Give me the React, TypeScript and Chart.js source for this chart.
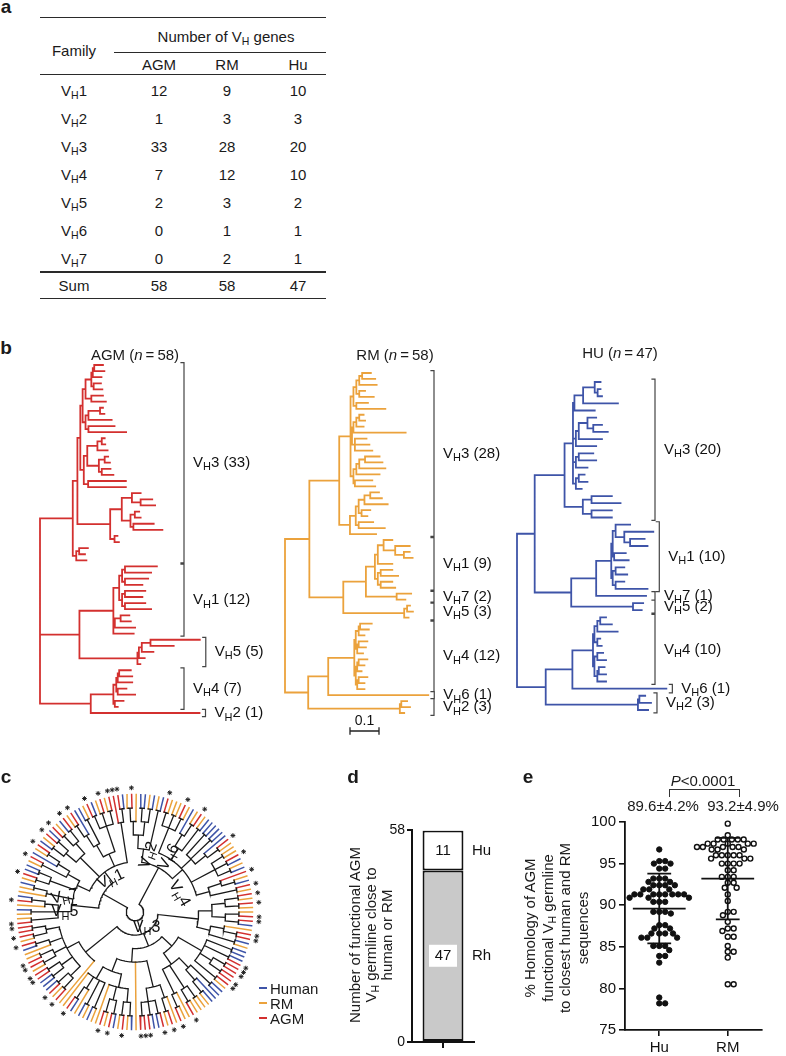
import React, { useEffect, useRef } from "react";
import { Chart, registerables } from "chart.js";

Chart.register(...registerables);

const FONT = "'Liberation Sans', Arial, Helvetica, sans-serif";
Chart.defaults.font.family = FONT;
Chart.defaults.color = "#111";

/* ---------------- panel a : table ---------------- */
const familyNames = ["1", "2", "3", "4", "5", "6", "7"];
const speciesNames = ["AGM", "RM", "Hu"];
const agmGeneCounts = [12, 1, 33, 7, 2, 0, 0];
const rmGeneCounts = [9, 3, 28, 12, 3, 1, 2];
const huGeneCounts = [10, 3, 20, 10, 2, 1, 1];
const geneSums = [58, 58, 47];

/* ---------------- panel b : trees (Newick, branch lengths in substitutions/site) ---------------- */
const agmSub1 = "((((:0.03,:0.035):0.005,:0.03):0.005,(:0.025,:0.03):0.008):0.02,(:0.04,:0.05):0.02)";
const agmSub2 = "(((:0.01,:0.015):0.04,:0.08):0.01,(:0.09,:0.13):0.01)";
const agmSub3 = "((((:0.01,:0.012):0.015,:0.035):0.035,((:0.012,:0.018):0.02,(:0.03,:0.04):0.01):0.04):0.012,(:0.13,:0.13):0.015)";
const agmSub4 = "(((:0.03,(:0.04,:0.05):0.03):0.035,((:0.015,:0.02):0.015,(:0.07,:0.1):0.01):0.03):0.04,(:0.01,:0.015):0.015)";
const agmSub5 = "((:0.03,:0.02):0.01,:0.035)";
const agmVH1 = "((((:0.11,:0.09):0.01,(:0.08,:0.06):0.01):0.01,((:0.07,:0.06):0.01,(:0.07,:0.09):0.01):0.01):0.02,((:0.03,:0.035):0.02,:0.07):0.005,:0.07)";
const agmVH5 = "((((:0.17,:0.08):0.03,:0.04):0.01,:0.02):0.005,:0.01)";
const agmVH4 = "((((:0.04,:0.045):0.005,:0.05):0.005,(:0.03,:0.06):0.005):0.01,(:0.03,:0.01):0.005)";
const agmSub12 = `(${agmSub1}:0.01,${agmSub2}:0.01)`;
const agmA1a = `(${agmSub12}:0.008,${agmSub3}:0.012)`;
const agmA1 = `(${agmA1a}:0.01,${agmSub4}:0.113)`;
const agmVH3 = `(${agmA1}:0.016,${agmSub5}:0.012)`;
const agmNewick = `(${agmVH3}:0.113,(${agmVH1}:0.117,${agmVH5}:0.2):0.136,(${agmVH4}:0.078,:0.375):0.175)`;
const agmCladeNames = ["3", "1", "5", "4", "2"];
const agmCladeSizes = [33, 12, 5, 7, 1];

const rmVH3a = "((((:0.03,:0.045):0.01,:0.06):0.01,(:0.02,:0.05):0.01):0.01,(:0.04,:0.1):0.01)";
const rmVH3b = "((((:0.015,:0.02):0.01,:0.025):0.01,:0.18):0.005,(:0.04,:0.05,:0.06):0.01)";
const rmVH3c = "((((:0.05,:0.06):0.02,:0.09):0.01,:0.08):0.01,(:0.06,:0.07):0.005)";
const rmVH3d = "(((((:0.03,:0.04):0.02,:0.08):0.02,(:0.03,:0.02):0.01):0.01,(:0.05,:0.09):0.01):0.02,:0.09)";
const rmVH1 = "(((:0.03,(:0.05,(:0.02,:0.03):0.03):0.04):0.02,:0.05):0.01,((:0.04,:0.06):0.01,(:0.04,:0.05):0.01):0.01)";
const rmVH7 = "(:0.05,:0.03)";
const rmVH5 = "((:0.01,:0.02):0.01,:0.015)";
const rmVH4 = "((((:0.04,:0.03):0.005,:0.02):0.01,((:0.03,:0.025):0.005,:0.02):0.005):0.005,(((:0.03,:0.02):0.005,:0.015):0.005,((:0.03,:0.02):0.005,:0.025):0.005):0.005)";
const rmVH2 = "((:0.02,:0.03):0.005,:0.015)";
const rmVH3 = `((${rmVH3a}:0.01,${rmVH3b}:0.005,${rmVH3c}:0.01):0.039,${rmVH3d}:0.037)`;
const rmUpper = `(${rmVH3}:0.103,((${rmVH1}:0.031,${rmVH7}:0.106):0.078,${rmVH5}:0.21):0.117)`;
const rmLower = `((${rmVH4}:0.09,:0.345):0.069,${rmVH2}:0.316)`;
const rmNewick = `(${rmUpper}:0.084,${rmLower}:0.08)`;
const rmCladeNames = ["3", "1", "7", "5", "4", "6", "2"];
const rmCladeSizes = [28, 9, 2, 3, 12, 1, 3];

const huVH3a = "((((:0.02,(:0.01,:0.015):0.01):0.04,:0.12):0.03,:0.07):0.005,(((:0.03,(:0.03,:0.05):0.02):0.03,:0.08):0.01,:0.07):0.01,((:0.05,:0.06):0.01,:0.04):0.01,((:0.02,:0.03):0.01,:0.02):0.01)";
const huVH3b = "((:0.07,:0.1):0.03,(:0.07,:0.07):0.03)";
const huVH1 = "(((:0.05,(:0.1,(:0.05,:0.06):0.02):0.03):0.01,(:0.04,:0.05):0.005):0.005,((:0.03,:0.04):0.01,(:0.03,:0.11):0.01):0.005)";
const huVH5 = "(:0.035,:0.03)";
const huVH4 = "((((:0.02,:0.04):0.01,:0.07):0.01,(:0.01,:0.015):0.01):0.005,((:0.02,:0.03):0.01,((:0.02,:0.025):0.005,:0.03):0.01):0.005)";
const huVH2 = "((:0.02,:0.04):0.005,:0.035)";
const huUpper = `((${huVH3a}:0.029,${huVH3b}:0.063):0.103,((${huVH1}:0.052,:0.172):0.086,${huVH5}:0.213):0.126)`;
const huLower = `((${huVH4}:0.071,:0.324):0.092,${huVH2}:0.318)`;
const huNewick = `(${huUpper}:0.061,${huLower}:0.099)`;
const huCladeNames = ["3", "1", "7", "5", "4", "6", "2"];
const huCladeSizes = [20, 10, 1, 2, 10, 1, 3];

const treeTitles = ["AGM", "RM", "HU"];
const treeSizes = [58, 58, 47];
const scaleBarLength = 0.1;

/* ---------------- panel c : circular tree (H = human, R = RM, A = AGM with *, a = AGM) ---------------- */
const cVH2 = "(((RA)R)((HH)(RH)))";
const cVH6 = "(RH)";
const cVH4 = "(((AR)(RR)(AR))((H(RA))(RH))((HH)(HH)(H(AR)))((RR)(AH)(RH))((A(RH))(AR)))";
const cVH3a = "((((AR)(AR))((RA)(AH)))((R(AA))(HR)))";
const cVH3b = "((HH)(HA)((AA)(aA))(AR))";
const cVH3c = "(((HH)(H(HR)))((RR)(RA))(R(RA)))";
const cVH3d = "((R(AR))((AH)(HA)(AA)))";
const cVH3e = "(((HR)(AR))((HA)(RA))R)";
const cVH3f = "(((AR)(AH))((HH)(AA))((RA)(AR))(R(HA))((RA)(aA)))";
const cVH3g = "((RH)(RH)(R(HA))R)";
const cVH3 = `(${cVH3a}((${cVH3b}${cVH3c})(${cVH3d}R(${cVH3e}${cVH3g})))(R${cVH3f}))`;
const cVH5 = "((AR)(RH)(R(AH)))";
const cVH7 = "(R(RH))";
const cVH1 = "((((RA)(HH))((RA)(H(RA))))(((HR)(AH))((AR)(HA)))((((RA)H)(HR))((AH)(RA)(RA)))(A(AH)))";
const cTree = `(((${cVH2}${cVH6})${cVH4})${cVH3}((${cVH5}${cVH7})${cVH1}))`;
const legendNames = ["Human", "RM", "AGM"];
const legendKeys = ["H", "R", "A"];

/* ---------------- panel d ---------------- */
const closeSegLabels = ["Rh", "Hu"];
const closeSegCounts = [47, 11];
const closeAxisTicks = [0, 58];

/* ---------------- panel e ---------------- */
const homologyGroups = ["Hu", "RM"];
const huHomology = [96.7, 95.3, 95.3, 95.0, 95.0, 94.4, 94.4, 93.2, 93.2, 93.2, 92.8, 92.8, 92.4, 92.4, 92.4, 92.4, 91.9, 91.9, 91.9, 91.3, 91.3, 91.3, 91.3, 91.3, 91.3, 91.3, 91.3, 90.9, 90.9, 90.9, 90.4, 90.4, 90.4, 89.2, 89.2, 89.2, 89.0, 87.6, 87.6, 87.2, 87.2, 86.6, 86.6, 86.6, 86.6, 86.1, 86.1, 86.1, 85.1, 85.1, 85.1, 84.6, 83.9, 83.9, 83.1, 78.9, 78.2, 78.2];
const rmHomology = [99.8, 98.4, 97.9, 97.9, 97.9, 97.9, 97.9, 97.4, 97.4, 97.4, 97.4, 97.4, 97.0, 97.0, 97.0, 97.0, 97.0, 96.7, 96.7, 96.7, 96.0, 96.0, 96.0, 96.0, 96.0, 95.6, 95.6, 95.6, 95.0, 95.0, 95.0, 95.0, 94.2, 94.2, 93.4, 93.4, 93.4, 92.7, 92.7, 92.1, 92.1, 91.3, 90.5, 89.2, 89.2, 88.8, 88.0, 87.2, 87.2, 86.9, 86.2, 86.2, 85.1, 84.4, 84.4, 83.7, 80.5, 80.5];
const homologyMean = [89.6, 93.2];
const homologySD = [4.2, 4.9];
const homologyP = "0.0001";

/* ---------------- helpers ---------------- */
const COLORS: Record<string, string> = { A: "#d3302f", R: "#eba23c", H: "#3e54a8", black: "#1a1a1a" };
const TREE_PPU = 290;
const gap = () => ({ x: NaN, y: NaN });

type Part = { t: string; sub?: boolean; it?: boolean };
const vhParts = (name: string, count?: number): Part[] => [
  { t: "V" },
  { t: "H", sub: true },
  { t: name + (count !== undefined ? ` (${count})` : "") },
];

function drawParts(ctx: CanvasRenderingContext2D, parts: Part[], x: number, y: number, size: number, align: "left" | "center", rot = 0) {
  ctx.save();
  ctx.translate(x, y);
  ctx.rotate((rot * Math.PI) / 180);
  ctx.textBaseline = "middle";
  ctx.textAlign = "left";
  ctx.fillStyle = "#111";
  const fontOf = (p: Part) => `${p.it ? "italic " : ""}${p.sub ? Math.round(size * 0.7) : size}px ${FONT}`;
  let w = 0;
  parts.forEach((p) => {
    ctx.font = fontOf(p);
    w += ctx.measureText(p.t).width;
  });
  let cx = align === "center" ? -w / 2 : 0;
  parts.forEach((p) => {
    ctx.font = fontOf(p);
    ctx.fillText(p.t, cx, p.sub ? size * 0.3 : 0);
    cx += ctx.measureText(p.t).width;
  });
  ctx.restore();
}

const lineDS = (data: any[], color: string, width: number): any => ({
  data,
  showLine: true,
  borderColor: color,
  backgroundColor: color,
  borderWidth: width,
  pointRadius: 0,
  pointHoverRadius: 0,
  spanGaps: false,
  clip: false,
  borderCapStyle: "square",
  tension: 0,
});

const baseOpts: any = {
  responsive: false,
  animation: false,
  devicePixelRatio: 1,
  events: [],
  layout: { padding: 0 },
  plugins: { legend: { display: false }, tooltip: { enabled: false } },
};

const hiddenAxis = (min: number, max: number) => ({ type: "linear", min, max, display: false });

/* ---- rectangular trees ---- */
type TNode = { children: TNode[]; len: number; x: number; y: number };
function parseNewick(s: string): TNode {
  let i = 0;
  const node = (): TNode => {
    const n: TNode = { children: [], len: 0, x: 0, y: 0 };
    if (s[i] === "(") {
      i++;
      n.children.push(node());
      while (s[i] === ",") {
        i++;
        n.children.push(node());
      }
      i++;
    }
    while (i < s.length && ",():".indexOf(s[i]) < 0) i++;
    if (s[i] === ":") {
      i++;
      let num = "";
      while (i < s.length && ",()".indexOf(s[i]) < 0) num += s[i++];
      n.len = parseFloat(num);
    }
    return n;
  };
  return node();
}
function layoutRect(root: TNode): TNode[] {
  const leaves: TNode[] = [];
  const walk = (n: TNode, px: number) => {
    n.x = px + n.len;
    if (!n.children.length) {
      n.y = leaves.length;
      leaves.push(n);
      return;
    }
    n.children.forEach((c) => walk(c, n.x));
    n.y = (n.children[0].y + n.children[n.children.length - 1].y) / 2;
  };
  walk(root, 0);
  return leaves;
}
function rectSegments(root: TNode) {
  const pts: any[] = [];
  const walk = (n: TNode) => {
    if (!n.children.length) return;
    const f = n.children[0];
    const l = n.children[n.children.length - 1];
    pts.push({ x: n.x, y: -f.y }, { x: n.x, y: -l.y }, gap());
    n.children.forEach((c) => {
      pts.push({ x: n.x, y: -c.y }, { x: c.x, y: -c.y }, gap());
      walk(c);
    });
  };
  walk(root);
  return pts;
}

type TreeSpec = {
  newick: string;
  color: string;
  names: string[];
  sizes: number[];
  box: { left: number; top: number; width: number; height: number };
  rootX: number;
  leafTop: number;
  leafBottom: number;
  bracketCol: number;
  scaleBar?: { x: number; y: number; len: number };
};

function makeTree(canvas: HTMLCanvasElement, spec: TreeSpec) {
  const root = parseNewick(spec.newick);
  const leaves = layoutRect(root);
  const n = leaves.length;
  const sp = (spec.leafBottom - spec.leafTop) / (n - 1);
  const b = spec.box;
  const px2u = (px: number) => (px - spec.rootX) / TREE_PPU;
  const py2u = (py: number) => -(py - spec.leafTop) / sp;
  const brackets: any[] = [];
  const labels: { x: number; y: number; parts: Part[] }[] = [];
  let s = 0;
  spec.sizes.forEach((sz, k) => {
    const e = s + sz - 1;
    let tip = -Infinity;
    for (let i = s; i <= e; i++) tip = Math.max(tip, leaves[i].x);
    const bx = Math.max(px2u(spec.bracketCol), tip + 6 / TREE_PPU);
    const ext = sz > 1 ? 0.4 : 0.6;
    const t = 3 / TREE_PPU;
    brackets.push({ x: bx - t, y: -(s - ext) }, { x: bx, y: -(s - ext) }, { x: bx, y: -(e + ext) }, { x: bx - t, y: -(e + ext) }, gap());
    labels.push({ x: bx, y: -(s + e) / 2, parts: vhParts(spec.names[k], sz) });
    s = e + 1;
  });
  const datasets: any[] = [lineDS(rectSegments(root), spec.color, 1.8), lineDS(brackets, "#444", 1.2)];
  let bar: any = null;
  if (spec.scaleBar) {
    const x0 = px2u(spec.scaleBar.x);
    const y0 = py2u(spec.scaleBar.y);
    const x1 = x0 + spec.scaleBar.len;
    const dt = 3 / sp;
    datasets.push(
      lineDS(
        [{ x: x0, y: y0 + dt }, { x: x0, y: y0 - dt }, gap(), { x: x0, y: y0 }, { x: x1, y: y0 }, gap(), { x: x1, y: y0 + dt }, { x: x1, y: y0 - dt }],
        "#222",
        1.3
      )
    );
    bar = { x: (x0 + x1) / 2, y: y0, text: String(spec.scaleBar.len) };
  }
  const plugin = {
    id: "treeLabels",
    afterDatasetsDraw(chart: any) {
      const ctx = chart.ctx;
      const xs = chart.scales.x;
      const ys = chart.scales.y;
      labels.forEach((l) => drawParts(ctx, l.parts, xs.getPixelForValue(l.x) + 9, ys.getPixelForValue(l.y), 15, "left"));
      if (bar) drawParts(ctx, [{ t: bar.text }], xs.getPixelForValue(bar.x), ys.getPixelForValue(bar.y) - 10, 14, "center");
    },
  };
  return new Chart(canvas, {
    type: "scatter",
    data: { datasets },
    options: {
      ...baseOpts,
      scales: {
        x: hiddenAxis(px2u(b.left), px2u(b.left + b.width)),
        y: hiddenAxis(py2u(b.top + b.height), py2u(b.top)),
      },
    } as any,
    plugins: [plugin],
  });
}

/* ---- circular tree ---- */
type CNode = { children: CNode[]; leaf: string; ang: number; h: number; r: number };
function parseTopo(s: string): CNode {
  let i = 0;
  const node = (): CNode => {
    if (s[i] === "(") {
      i++;
      const ch: CNode[] = [];
      while (s[i] !== ")") ch.push(node());
      i++;
      return { children: ch, leaf: "", ang: 0, h: 0, r: 0 };
    }
    return { children: [], leaf: s[i++], ang: 0, h: 0, r: 0 };
  };
  return node();
}
const C_START = -5;
const C_R = 122;
const C_STEP = 14;
const C_ROOT_R = 9;
const C_CX = 135;
const C_CY = 912;
const C_HALF = 135;
const cLabelPos = [
  { name: "1", x: 110, y: 878, rot: -25 },
  { name: "2", x: 149, y: 853, rot: -70 },
  { name: "6", x: 170, y: 855, rot: -62 },
  { name: "4", x: 181, y: 893, rot: 60 },
  { name: "7", x: 62, y: 896, rot: -12 },
  { name: "5", x: 62, y: 912, rot: 0 },
  { name: "3", x: 147, y: 928, rot: 0 },
];

function makeCirc(canvas: HTMLCanvasElement) {
  const root = parseTopo(cTree);
  const leaves: CNode[] = [];
  const collect = (n: CNode) => {
    if (!n.children.length) leaves.push(n);
    else n.children.forEach(collect);
  };
  collect(root);
  const N = leaves.length;
  leaves.forEach((l, i) => (l.ang = C_START + ((i + 0.5) * 360) / N));
  const setH = (n: CNode) => {
    if (!n.children.length) {
      n.h = 0;
      return;
    }
    n.children.forEach(setH);
    n.h = 1 + Math.max(...n.children.map((c) => c.h));
    n.ang = (n.children[0].ang + n.children[n.children.length - 1].ang) / 2;
  };
  setH(root);
  const setR = (n: CNode, isRoot: boolean) => {
    n.r = isRoot ? C_ROOT_R : n.children.length ? Math.max(C_ROOT_R + 8, C_R - C_STEP * n.h) : C_R;
    n.children.forEach((c) => setR(c, false));
  };
  setR(root, true);
  const pol = (r: number, a: number) => ({ x: r * Math.sin((a * Math.PI) / 180), y: r * Math.cos((a * Math.PI) / 180) });
  const segs: Record<string, any[]> = { black: [], H: [], R: [], A: [] };
  const walk = (n: CNode) => {
    if (!n.children.length) return;
    const a0 = n.children[0].ang;
    const a1 = n.children[n.children.length - 1].ang;
    const steps = Math.max(2, Math.ceil((a1 - a0) / 2));
    for (let k = 0; k <= steps; k++) segs.black.push(pol(n.r, a0 + ((a1 - a0) * k) / steps));
    segs.black.push(gap());
    n.children.forEach((c) => {
      const key = c.children.length ? "black" : c.leaf === "a" ? "A" : c.leaf;
      segs[key].push(pol(n.r, c.ang), pol(c.r, c.ang), gap());
      walk(c);
    });
  };
  walk(root);
  const stars = leaves.filter((l) => l.leaf === "A").map((l) => pol(C_R + 7, l.ang));
  const datasets: any[] = [
    lineDS(segs.black, COLORS.black, 1.3),
    lineDS(segs.H, COLORS.H, 1.5),
    lineDS(segs.R, COLORS.R, 1.5),
    lineDS(segs.A, COLORS.A, 1.5),
    {
      data: stars,
      showLine: false,
      pointStyle: "star",
      pointRadius: 2.4,
      borderColor: "#222",
      backgroundColor: "#222",
      pointBorderWidth: 1,
      clip: false,
    },
  ];
  const plugin = {
    id: "circLabels",
    afterDatasetsDraw(chart: any) {
      const xs = chart.scales.x;
      const ys = chart.scales.y;
      cLabelPos.forEach((l) =>
        drawParts(chart.ctx, vhParts(l.name), xs.getPixelForValue(l.x - C_CX), ys.getPixelForValue(C_CY - l.y), 16, "center", l.rot)
      );
    },
  };
  return new Chart(canvas, {
    type: "scatter",
    data: { datasets },
    options: { ...baseOpts, scales: { x: hiddenAxis(-C_HALF, C_HALF), y: hiddenAxis(-C_HALF, C_HALF) } } as any,
    plugins: [plugin],
  });
}

/* ---- panel d ---- */
function makeBar(canvas: HTMLCanvasElement) {
  const fills = ["#c9c9c9", "#ffffff"];
  const plugin = {
    id: "barLabels",
    afterDatasetsDraw(chart: any) {
      const ctx = chart.ctx;
      chart.data.datasets.forEach((ds: any, i: number) => {
        const el = chart.getDatasetMeta(i).data[0];
        const { x, y, base } = el.getProps(["x", "y", "base"], true);
        const my = (y + base) / 2;
        ctx.fillStyle = "#fff";
        ctx.fillRect(x - 14, my - 11, 28, 22);
        drawParts(ctx, [{ t: String(ds.data[0]) }], x, my, 15, "center");
        drawParts(ctx, [{ t: ds.label }], chart.chartArea.right - 2, my, 15, "left");
      });
    },
  };
  return new Chart(canvas, {
    type: "bar",
    data: {
      labels: [""],
      datasets: closeSegCounts.map((v, i) => ({
        label: closeSegLabels[i],
        data: [v],
        backgroundColor: fills[i],
        borderColor: "#111",
        borderWidth: 2,
        borderSkipped: false,
        barPercentage: 0.66,
        categoryPercentage: 1,
      })),
    },
    options: {
      ...baseOpts,
      layout: { padding: { top: 8, right: 34, left: 0, bottom: 0 } },
      scales: {
        x: {
          stacked: true,
          grid: { display: true, drawOnChartArea: false, offset: false, tickLength: 6, color: "#111", lineWidth: 2 },
          border: { display: true, color: "#111", width: 2 },
          ticks: { display: false },
          afterFit: (s: any) => {
            s.height = 14;
          },
        },
        y: {
          stacked: true,
          min: closeAxisTicks[0],
          max: closeAxisTicks[1],
          afterBuildTicks: (s: any) => {
            s.ticks = closeAxisTicks.map((v) => ({ value: v }));
          },
          grid: { drawOnChartArea: false, tickLength: 5, color: "#111", lineWidth: 2 },
          border: { display: true, color: "#111", width: 2 },
          ticks: { font: { size: 14 }, color: "#111", padding: 2 },
          afterFit: (s: any) => {
            s.width = 30;
          },
        },
      },
    } as any,
    plugins: [plugin],
  });
}

/* ---- panel e ---- */
const E_AREA = { left: 625, top: 818, width: 137, height: 212 };
function beeswarm(values: number[], pxPerY: number, diam: number): number[] {
  const order = values.map((_, i) => i).sort((a, b) => values[b] - values[a]);
  const placed: { x: number; y: number }[] = [];
  const out = new Array(values.length).fill(0);
  for (const i of order) {
    const y = values[i] * pxPerY;
    const cands = [0];
    for (const p of placed) {
      const dy = Math.abs(p.y - y);
      if (dy < diam) {
        const dx = Math.sqrt(diam * diam - dy * dy);
        cands.push(p.x + dx + 0.01, p.x - dx - 0.01);
      }
    }
    cands.sort((a, b) => Math.abs(a) - Math.abs(b));
    let best = 0;
    for (const c of cands) {
      if (placed.every((p) => (p.x - c) ** 2 + (p.y - y) ** 2 >= diam * diam - 0.02)) {
        best = c;
        break;
      }
    }
    placed.push({ x: best, y });
    out[i] = best;
  }
  return out;
}
function makeDots(canvas: HTMLCanvasElement) {
  const xMin = 0.5;
  const xMax = 2.5;
  const yMin = 75;
  const yMax = 100;
  const pxPerX = E_AREA.width / (xMax - xMin);
  const pxPerY = E_AREA.height / (yMax - yMin);
  const groups = [huHomology, rmHomology];
  const pointSets = groups.map((vals, g) => {
    const offs = beeswarm(vals, pxPerY, 5.9);
    return vals.map((v, i) => ({ x: g + 1 + offs[i] / pxPerX, y: v }));
  });
  const bars: any[] = [];
  homologyMean.forEach((m, g) => {
    const c = g + 1;
    const sd = homologySD[g];
    const mw = 25.5 / pxPerX;
    const cw = 11 / pxPerX;
    bars.push({ x: c - mw, y: m }, { x: c + mw, y: m }, gap());
    bars.push({ x: c - cw, y: m + sd }, { x: c + cw, y: m + sd }, gap());
    bars.push({ x: c - cw, y: m - sd }, { x: c + cw, y: m - sd }, gap());
    bars.push({ x: c, y: m - sd }, { x: c, y: m + sd }, gap());
  });
  return new Chart(canvas, {
    type: "scatter",
    data: {
      datasets: [
        lineDS(bars, "#111", 1.8),
        { data: pointSets[0], pointRadius: 2.7, backgroundColor: "#111", borderColor: "#111", borderWidth: 1, clip: false },
        { data: pointSets[1], pointRadius: 2.5, backgroundColor: "#fff", borderColor: "#111", borderWidth: 1.4, clip: false },
      ],
    },
    options: {
      ...baseOpts,
      layout: { padding: { top: 8, right: 12, left: 0, bottom: 0 } },
      scales: {
        x: {
          type: "linear",
          min: xMin,
          max: xMax,
          afterBuildTicks: (s: any) => {
            s.ticks = homologyGroups.map((_, i) => ({ value: i + 1 }));
          },
          ticks: { callback: (v: any) => homologyGroups[Math.round(v) - 1], font: { size: 15 }, color: "#111", padding: 3, maxRotation: 0 },
          grid: { drawOnChartArea: false, tickLength: 6, color: "#111", lineWidth: 1.6 },
          border: { display: true, color: "#111", width: 1.8 },
          afterFit: (s: any) => {
            s.height = 26;
          },
        },
        y: {
          min: yMin,
          max: yMax,
          ticks: { stepSize: 5, font: { size: 15 }, color: "#111", padding: 3 },
          grid: { drawOnChartArea: false, tickLength: 6, color: "#111", lineWidth: 1.6 },
          border: { display: true, color: "#111", width: 1.8 },
          afterFit: (s: any) => {
            s.width = 40;
          },
        },
      },
    } as any,
  });
}

/* ---------------- React ---------------- */
const Sub = ({ children }: any) => (
  <sub style={{ fontSize: "0.7em", verticalAlign: "-0.3em", lineHeight: 0 }}>{children}</sub>
);
const T = ({ x, y, children, size = 15, style }: any) => (
  <div
    style={{
      position: "absolute",
      left: x,
      top: y,
      transform: "translate(-50%, -50%)",
      fontSize: size,
      whiteSpace: "nowrap",
      lineHeight: 1,
      ...style,
    }}
  >
    {children}
  </div>
);
const HLine = ({ x, y, w, h = 1 }: any) => (
  <div style={{ position: "absolute", left: x, top: y, width: w, height: h, background: "#2a2a2a" }} />
);
const RotTitle = ({ cx, cy, lines, lh, size = 15 }: any) => {
  const w = 220;
  const h = lines.length * lh;
  return (
    <div
      style={{
        position: "absolute",
        left: cx - w / 2,
        top: cy - h / 2,
        width: w,
        height: h,
        transform: "rotate(-90deg)",
        transformOrigin: "50% 50%",
        textAlign: "center",
        fontSize: size,
        lineHeight: `${lh}px`,
        whiteSpace: "nowrap",
      }}
    >
      {lines.map((l: any, i: number) => (
        <div key={i}>{l}</div>
      ))}
    </div>
  );
};

export default function App() {
  const agmRef = useRef<HTMLCanvasElement>(null);
  const rmRef = useRef<HTMLCanvasElement>(null);
  const huRef = useRef<HTMLCanvasElement>(null);
  const cRef = useRef<HTMLCanvasElement>(null);
  const dRef = useRef<HTMLCanvasElement>(null);
  const eRef = useRef<HTMLCanvasElement>(null);

  useEffect(() => {
    const charts: Chart[] = [];
    charts.push(
      makeTree(agmRef.current!, {
        newick: agmNewick,
        color: COLORS.A,
        names: agmCladeNames,
        sizes: agmCladeSizes,
        box: { left: 20, top: 340, width: 250, height: 400 },
        rootX: 40,
        leafTop: 365,
        leafBottom: 713,
        bracketCol: 184,
      })
    );
    charts.push(
      makeTree(rmRef.current!, {
        newick: rmNewick,
        color: COLORS.R,
        names: rmCladeNames,
        sizes: rmCladeSizes,
        box: { left: 262, top: 340, width: 260, height: 400 },
        rootX: 285,
        leafTop: 373,
        leafBottom: 713,
        bracketCol: 434,
        scaleBar: { x: 350, y: 731, len: scaleBarLength },
      })
    );
    charts.push(
      makeTree(huRef.current!, {
        newick: huNewick,
        color: COLORS.H,
        names: huCladeNames,
        sizes: huCladeSizes,
        box: { left: 505, top: 340, width: 281, height: 400 },
        rootX: 517,
        leafTop: 382,
        leafBottom: 710,
        bracketCol: 655,
      })
    );
    charts.push(makeCirc(cRef.current!));
    charts.push(makeBar(dRef.current!));
    charts.push(makeDots(eRef.current!));
    return () => charts.forEach((c) => c.destroy());
  }, []);

  const cv = (ref: any, left: number, top: number, w: number, h: number) => (
    <canvas ref={ref} width={w} height={h} style={{ position: "absolute", left, top, width: w, height: h }} />
  );

  const colX = [159, 227, 298];
  const rowY = (i: number) => 90 + 28 * i;
  const geneCols = [agmGeneCounts, rmGeneCounts, huGeneCounts];

  return (
    <div
      style={{
        position: "absolute",
        left: 0,
        top: 0,
        width: 786,
        height: 1056,
        background: "#fff",
        color: "#1a1a1a",
        fontFamily: FONT,
        overflow: "hidden",
      }}
    >
      {/* canvases */}
      {cv(agmRef, 20, 340, 250, 400)}
      {cv(rmRef, 262, 340, 260, 400)}
      {cv(huRef, 505, 340, 281, 400)}
      {cv(cRef, C_CX - C_HALF, C_CY - C_HALF, 2 * C_HALF, 2 * C_HALF)}
      {cv(dRef, 382, 820, 126, 236)}
      {cv(eRef, E_AREA.left - 40, E_AREA.top - 8, 40 + E_AREA.width + 12, 8 + E_AREA.height + 26)}

      {/* panel letters */}
      <T x={6} y={6} size={19} style={{ fontWeight: "bold" }}>a</T>
      <T x={6} y={347} size={19} style={{ fontWeight: "bold" }}>b</T>
      <T x={6} y={776} size={19} style={{ fontWeight: "bold" }}>c</T>
      <T x={353} y={776} size={19} style={{ fontWeight: "bold" }}>d</T>
      <T x={528} y={776} size={19} style={{ fontWeight: "bold" }}>e</T>

      {/* panel a table */}
      <HLine x={40} y={17} w={286} />
      <HLine x={114} y={52} w={212} />
      <HLine x={40} y={74} w={286} />
      <HLine x={40} y={271} w={286} h={2} />
      <HLine x={40} y={298} w={286} />
      <T x={74} y={50}>Family</T>
      <T x={226} y={36}>
        Number of V<Sub>H</Sub> genes
      </T>
      {speciesNames.map((s, j) => (
        <T key={s} x={colX[j]} y={64}>
          {s}
        </T>
      ))}
      {familyNames.map((f, i) => (
        <React.Fragment key={f}>
          <T x={74} y={rowY(i)}>
            V<Sub>H</Sub>
            {f}
          </T>
          {geneCols.map((col, j) => (
            <T key={j} x={colX[j]} y={rowY(i)}>
              {col[i]}
            </T>
          ))}
        </React.Fragment>
      ))}
      <T x={74} y={285}>Sum</T>
      {geneSums.map((v, j) => (
        <T key={j} x={colX[j]} y={285}>
          {v}
        </T>
      ))}

      {/* panel b titles */}
      {treeTitles.map((t, k) => (
        <T key={t} x={[135, 395, 620][k]} y={[354, 354, 352][k]}>
          {t} (<i>n</i>&thinsp;=&thinsp;{treeSizes[k]})
        </T>
      ))}

      {/* panel c legend */}
      {legendNames.map((name, i) => (
        <div
          key={name}
          style={{ position: "absolute", left: 259, top: 988 + i * 15 - 8, height: 16, display: "flex", alignItems: "center", fontSize: 15 }}
        >
          <div style={{ width: 8, height: 1.5, background: COLORS[legendKeys[i]], marginRight: 3 }} />
          <span>{name}</span>
        </div>
      ))}

      {/* panel d axis title */}
      <RotTitle
        cx={371}
        cy={935}
        lh={16}
        lines={[
          "Number of functional AGM",
          <span>
            V<Sub>H</Sub> germline close to
          </span>,
          "human or RM",
        ]}
      />

      {/* panel e axis title and annotations */}
      <RotTitle
        cx={556}
        cy={928}
        lh={17.5}
        lines={[
          "% Homology of AGM",
          <span>
            functional V<Sub>H</Sub> germline
          </span>,
          "to closest human and RM",
          "sequences",
        ]}
      />
      <T x={703} y={780}>
        <i>P</i>&lt;{homologyP}
      </T>
      <div
        style={{
          position: "absolute",
          left: 669,
          top: 789,
          width: 69,
          height: 7,
          borderTop: "1.3px solid #333",
          borderLeft: "1.3px solid #333",
          borderRight: "1.3px solid #333",
        }}
      />
      {homologyMean.map((m, g) => (
        <T key={g} x={[663, 743][g]} y={805}>
          {m.toFixed(1)}±{homologySD[g].toFixed(1)}%
        </T>
      ))}
    </div>
  );
}
